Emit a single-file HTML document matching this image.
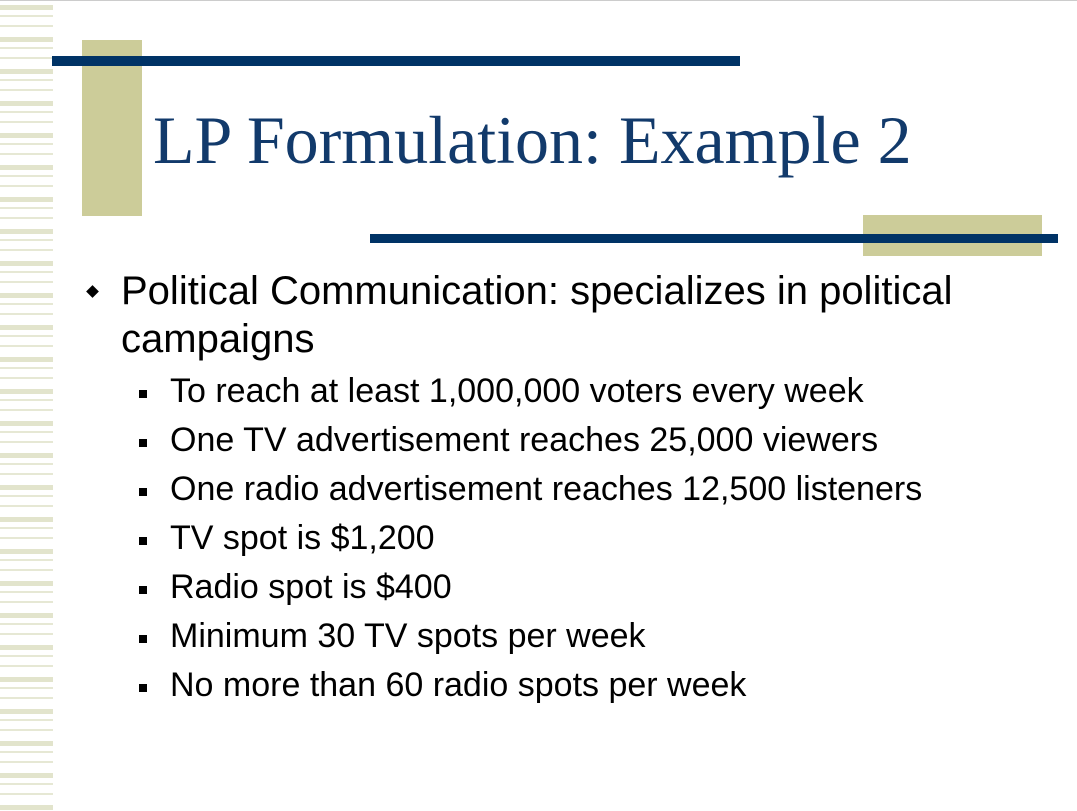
<!DOCTYPE html>
<html><head><meta charset="utf-8"><style>
body{margin:0;width:1077px;height:811px;background:#fff;position:relative;overflow:hidden;font-family:"Liberation Sans",sans-serif}
.a{position:absolute}
#stripes{left:0;top:0;width:53px;height:811px;background:repeating-linear-gradient(to bottom,#fff 0,#fff 5px,#e2e4cc 5px,#e2e4cc 10px,#fff 10px,#fff 15px,#e6e8d4 15px,#e6e8d4 17px,#fff 17px,#fff 25px,#e6e8d4 25px,#e6e8d4 27px,#fff 27px,#fff 32px)}
.t{white-space:nowrap;color:#000}
.s{font-size:34px;line-height:40px}
.sq{width:8px;height:8px;background:#000;left:139px}
</style></head><body>
<div id="stripes" class="a"></div>
<div class="a" style="left:0;top:0;width:1077px;height:1px;background:#ccc"></div>
<div class="a" style="left:82px;top:40px;width:60px;height:176px;background:#cccc99"></div>
<div class="a" style="left:52px;top:56px;width:688px;height:10px;background:#003366"></div>
<div class="a t" style="left:153px;top:105px;font-family:'Liberation Serif',serif;font-size:68px;color:#123a6b;line-height:70px">LP Formulation: Example 2</div>
<div class="a" style="left:863px;top:215px;width:179px;height:41px;background:#cccc99"></div>
<div class="a" style="left:370px;top:234px;width:688px;height:9px;background:#003366"></div>
<div class="a" style="left:88px;top:287px;width:9px;height:9px;background:#000;transform:rotate(45deg)"></div>
<div class="a t" style="left:121px;top:267px;font-size:40px;line-height:48px">Political Communication: specializes in political<br>campaigns</div>
<div class="a sq" style="top:390px"></div>
<div class="a t s" style="left:170px;top:371px">To reach at least 1,000,000 voters every week</div>
<div class="a sq" style="top:439px"></div>
<div class="a t s" style="left:170px;top:420px">One TV advertisement reaches 25,000 viewers</div>
<div class="a sq" style="top:488px"></div>
<div class="a t s" style="left:170px;top:469px">One radio advertisement reaches 12,500 listeners</div>
<div class="a sq" style="top:537px"></div>
<div class="a t s" style="left:170px;top:518px">TV spot is $1,200</div>
<div class="a sq" style="top:586px"></div>
<div class="a t s" style="left:170px;top:567px">Radio spot is $400</div>
<div class="a sq" style="top:635px"></div>
<div class="a t s" style="left:170px;top:616px">Minimum 30 TV spots per week</div>
<div class="a sq" style="top:684px"></div>
<div class="a t s" style="left:170px;top:665px">No more than 60 radio spots per week</div>
</body></html>
